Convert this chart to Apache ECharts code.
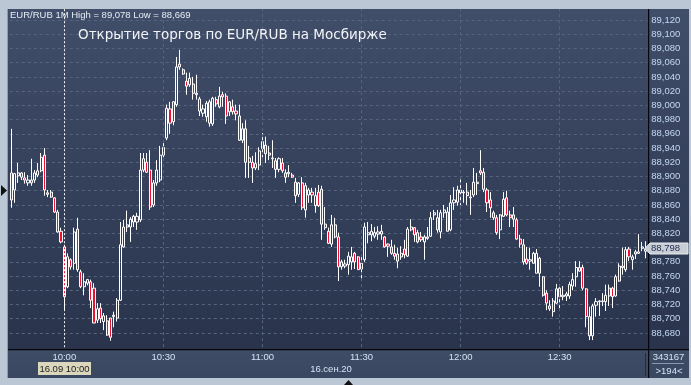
<!DOCTYPE html>
<html><head><meta charset="utf-8">
<script src="https://cdn.jsdelivr.net/npm/echarts@6/dist/echarts.min.js"></script>
<style>html,body{margin:0;padding:0;background:#b9c4d2}#c{width:691px;height:385px}</style>
</head><body><div id="c"></div>
<script>
// minute bars 09:44 .. 12:56
var startMinute = 9 * 60 + 44;
var barCount = 193;
var categories = [];
for (var i = 0; i < barCount; i++) {
  var t = startMinute + i, h = Math.floor(t / 60), m = t % 60;
  categories.push(h + ':' + (m < 10 ? '0' : '') + m);
}
var opens = [88.905,88.881,88.901,88.905,88.898,88.891,88.895,88.895,88.902,88.908,88.930,88.877,88.878,88.870,88.850,88.823,
88.801,88.745,88.783,88.778,88.826,88.766,88.745,88.750,88.752,88.743,88.698,88.715,88.696,88.697,88.701,88.703,88.701,88.726,88.801,88.829,88.829,88.836,88.836,88.839,88.909,88.920,88.909,88.860,88.891,88.895,88.930,
88.954,88.995,88.977,89.001,89.058,89.050,89.034,89.029,89.030,89.017,88.992,88.989,88.984,89.005,88.974,89.008,88.998,89.015,89.013,88.991,88.998,88.992,88.985,88.951,88.967,88.920,88.920,88.912,88.916,
88.939,88.944,88.933,88.925,88.922,88.910,88.919,88.905,88.904,88.902,88.892,88.875,88.891,88.853,88.874,88.878,88.859,88.878,88.882,88.833,88.823,88.805,88.832,88.815,88.773,88.774,88.776,88.780,88.792,88.787,
88.770,88.783,88.818,88.818,88.816,88.819,88.823,88.815,88.805,88.801,88.792,88.791,88.787,88.798,88.788,88.825,88.828,88.821,88.815,88.808,88.815,88.816,88.846,88.842,88.822,88.849,88.850,88.825,88.863,88.864,
88.877,88.878,88.878,88.870,88.874,88.890,88.908,88.906,88.881,88.867,88.849,88.842,88.825,88.844,88.870,88.846,88.846,88.839,88.812,88.804,88.784,88.781,88.778,88.764,88.785,88.759,88.736,88.718,88.710,88.722,
88.743,88.731,88.732,88.732,88.746,88.759,88.772,88.772,88.742,88.703,88.676,88.719,88.724,88.724,88.724,88.743,88.743,88.732,88.753,88.772,88.769,88.798,88.783,88.791,88.792,88.799,88.795];
var closes = [88.867,88.904,88.905,88.899,88.895,88.895,88.891,88.905,88.908,88.927,88.881,88.875,88.871,88.850,88.822,88.808,
88.731,88.787,88.773,88.822,88.769,88.745,88.752,88.755,88.726,88.694,88.714,88.700,88.704,88.677,88.674,88.705,88.726,88.804,88.829,88.832,88.840,88.844,88.844,88.909,88.925,88.906,88.857,88.891,88.909,88.930,88.941,
88.996,88.975,89.005,89.054,89.054,89.044,89.027,89.038,89.017,89.015,89.009,88.995,89.003,88.975,89.010,89.002,89.013,89.012,88.985,89.005,88.991,88.988,88.951,88.967,88.920,88.926,88.912,88.918,88.936,
88.949,88.932,88.930,88.926,88.910,88.925,88.908,88.899,88.906,88.899,88.873,88.891,88.856,88.887,88.881,88.874,88.873,88.859,88.833,88.828,88.806,88.832,88.815,88.773,88.780,88.777,88.788,88.787,88.780,88.769,
88.778,88.829,88.821,88.823,88.821,88.822,88.819,88.801,88.802,88.792,88.788,88.781,88.792,88.790,88.826,88.829,88.818,88.808,88.811,88.815,88.813,88.842,88.849,88.825,88.849,88.853,88.823,88.863,88.867,88.881,
88.881,88.877,88.873,88.871,88.892,88.892,88.905,88.882,88.863,88.856,88.842,88.821,88.846,88.868,88.846,88.842,88.840,88.812,88.805,88.780,88.778,88.783,88.792,88.792,88.764,88.733,88.722,88.714,88.725,88.742,
88.731,88.733,88.735,88.748,88.755,88.772,88.767,88.743,88.703,88.676,88.718,88.724,88.725,88.725,88.733,88.732,88.731,88.759,88.774,88.774,88.797,88.787,88.787,88.794,88.794,88.801,88.798];
var lows = [88.856,88.863,88.891,88.895,88.890,88.887,88.887,88.891,88.899,88.906,88.873,88.871,88.870,88.849,88.821,88.806,
88.712,88.743,88.769,88.769,88.766,88.743,88.733,88.747,88.715,88.694,88.694,88.694,88.684,88.676,88.669,88.688,88.696,88.725,88.800,88.822,88.808,88.829,88.825,88.836,88.906,88.905,88.853,88.857,88.887,88.892,88.927,
88.951,88.960,88.972,88.998,89.050,89.043,89.015,89.026,89.008,89.008,88.985,88.984,88.977,88.970,88.971,88.998,88.996,88.998,88.974,88.985,88.987,88.979,88.950,88.947,88.898,88.898,88.891,88.909,88.909,
88.927,88.919,88.923,88.912,88.898,88.906,88.905,88.891,88.899,88.898,88.863,88.871,88.853,88.842,88.863,88.863,88.849,88.857,88.811,88.825,88.805,88.801,88.813,88.753,88.769,88.771,88.762,88.769,88.770,88.769,
88.755,88.780,88.806,88.809,88.813,88.811,88.811,88.800,88.787,88.790,88.783,88.771,88.783,88.785,88.787,88.823,88.808,88.806,88.808,88.783,88.811,88.815,88.839,88.821,88.813,88.842,88.823,88.823,88.853,88.859,
88.860,88.863,88.860,88.846,88.871,88.874,88.902,88.878,88.850,88.842,88.839,88.818,88.812,88.843,88.844,88.829,88.829,88.811,88.800,88.776,88.776,88.769,88.778,88.764,88.745,88.731,88.712,88.711,88.703,88.721,
88.715,88.726,88.725,88.728,88.740,88.745,88.766,88.740,88.688,88.670,88.670,88.703,88.704,88.718,88.711,88.718,88.715,88.731,88.752,88.762,88.766,88.781,88.769,88.784,88.791,88.795,88.785];
var highs = [88.967,88.905,88.919,88.906,88.906,88.902,88.925,88.909,88.919,88.933,88.940,88.881,88.881,88.871,88.853,88.828,
88.804,88.792,88.785,88.828,88.842,88.769,88.764,88.756,88.755,88.750,88.722,88.722,88.708,88.705,88.701,88.710,88.729,88.836,88.839,88.852,88.843,88.846,88.849,88.933,88.933,88.933,88.937,88.895,88.923,88.943,88.949,
89.001,89.005,89.006,89.068,89.078,89.052,89.046,89.046,89.040,89.043,89.012,89.001,89.006,89.008,89.012,89.012,89.026,89.019,89.017,89.006,89.008,89.001,89.001,88.975,88.979,88.943,88.929,88.934,88.941,
88.961,88.956,88.943,88.951,88.926,88.927,88.926,88.910,88.916,88.905,88.898,88.892,88.899,88.891,88.884,88.884,88.884,88.888,88.887,88.857,88.828,88.846,88.842,88.821,88.783,88.783,88.794,88.801,88.794,88.788,
88.787,88.835,88.836,88.833,88.829,88.830,88.832,88.816,88.806,88.811,88.804,88.800,88.802,88.811,88.829,88.840,88.829,88.825,88.822,88.818,88.829,88.850,88.853,88.853,88.853,88.860,88.857,88.874,88.885,88.887,
88.896,88.881,88.891,88.881,88.912,88.905,88.937,88.912,88.884,88.878,88.852,88.846,88.847,88.878,88.880,88.852,88.857,88.842,88.818,88.812,88.801,88.800,88.794,88.798,88.787,88.760,88.740,88.726,88.729,88.749,
88.748,88.746,88.738,88.752,88.764,88.781,88.781,88.776,88.743,88.717,88.721,88.729,88.726,88.736,88.748,88.748,88.745,88.762,88.778,88.800,88.801,88.801,88.790,88.797,88.819,88.808,88.809];
var timeTickLabels = ['10:00','10:30','11:00','11:30','12:00','12:30'];
var gridTimes = ['10:30','11:00','11:30','12:00','12:30'];
var sessionOpen = '10:00';
var lastPrice = 88.798;
var headerText = 'EUR/RUB 1M High = 89,078 Low = 88,669';
var titleText = 'Открытие торгов по EUR/RUB на Мосбирже';

var candles = opens.map(function (o, i) { return [o, closes[i], lows[i], highs[i]]; });
var fmt = function (v) { return v.toFixed(3).replace('.', ','); };
var gridDash = '#56647f';

var chart = echarts.init(document.getElementById('c'), null, {renderer: 'canvas'});
var markData = gridTimes.map(function (t) { return {xAxis: t}; });
markData.push({xAxis: sessionOpen, lineStyle: {color: '#ffffff', type: [2, 2], width: 1, opacity: 0.95}});

chart.setOption({
  animation: false,
  backgroundColor: '#b9c4d2',
  grid: {left: 9.81, right: 43.8, top: 5.78, bottom: 37.8, containLabel: false},
  xAxis: {
    type: 'category', data: categories, boundaryGap: true,
    axisLine: {show: false}, axisTick: {show: false}, splitLine: {show: false},
    axisLabel: {
      color: '#d6e2f4', fontFamily: 'Liberation Sans, Arial, sans-serif', fontSize: 9.5, margin: 5,
      interval: function (idx, val) { return timeTickLabels.indexOf(val) >= 0; }
    }
  },
  yAxis: {
    type: 'value', position: 'right', min: 88.66, max: 89.14, interval: 0.02, scale: true,
    axisLine: {show: false}, axisTick: {show: false},
    axisLabel: {color: '#c3d7f3', fontFamily: 'Liberation Sans, Arial, sans-serif', fontSize: 9.5, margin: 4,
      showMinLabel: false, showMaxLabel: false, formatter: fmt},
    splitLine: {show: true, showMinLine: false, showMaxLine: false, lineStyle: {color: gridDash, type: [3, 3], width: 1}}
  },
  graphic: [
    {type: 'rect', z: -10, silent: true, shape: {x: 8, y: 9, width: 681, height: 341},
      style: {fill: new echarts.graphic.LinearGradient(0, 0, 0, 1, [{offset: 0, color: '#414e69'}, {offset: 1, color: '#29334c'}])}},
    {type: 'rect', z: -10, silent: true, shape: {x: 8, y: 350, width: 681, height: 28},
      style: {fill: new echarts.graphic.LinearGradient(0, 0, 0, 1, [{offset: 0, color: '#3f4c66'}, {offset: 1, color: '#3a4760'}])}},
    {type: 'rect', z: 200, silent: true, shape: {x: 0, y: 0, width: 691, height: 9}, style: {fill: '#bcc7d5'}},
    {type: 'rect', z: 200, silent: true, shape: {x: 0, y: 0, width: 8, height: 385}, style: {fill: '#bcc7d5'}},
    {type: 'rect', z: 200, silent: true, shape: {x: 7, y: 9, width: 1, height: 370}, style: {fill: '#8f9bab'}},
    {type: 'rect', z: 200, silent: true, shape: {x: 0, y: 378, width: 691, height: 7}, style: {fill: '#bcc7d5'}},
    {type: 'rect', z: 200, silent: true, shape: {x: 689, y: 0, width: 2, height: 385}, style: {fill: '#bcc7d5'}},
    {type: 'rect', z: 200, silent: true, shape: {x: 8, y: 349, width: 681, height: 1.2}, style: {fill: '#05070c'}},
    {type: 'rect', z: 200, silent: true, shape: {x: 648, y: 9, width: 1.2, height: 369}, style: {fill: '#05070c'}},
    {type: 'rect', z: 200, silent: true, shape: {x: 645, y: 353, width: 1, height: 23}, style: {fill: '#252d3d'}},
    {type: 'rect', z: 200, silent: true, shape: {x: 652, y: 363, width: 32, height: 1}, style: {fill: '#8a96aa'}},
    {type: 'polygon', z: 200, silent: true, shape: {points: [[1, 185], [7, 190.5], [1, 196]]}, style: {fill: '#111111'}},
    {type: 'polygon', z: 200, silent: true, shape: {points: [[344, 385], [348.5, 380], [353, 385]]}, style: {fill: '#111111'}},
    {type: 'text', z: 200, silent: true, style: {x: 10, y: 15, text: headerText, fill: '#e6ecf6',
      font: '9.5px "Liberation Sans", Arial, sans-serif', textVerticalAlign: 'middle'}},
    {type: 'text', z: 200, silent: true, style: {x: 78, y: 35, text: titleText, fill: '#f2f4f8',
      font: '13.5px "DejaVu Sans", sans-serif', textVerticalAlign: 'middle'}},
    {type: 'rect', z: 200, silent: true, shape: {x: 38, y: 362, width: 53, height: 13}, style: {fill: '#dad7bd'}},
    {type: 'text', z: 201, silent: true, style: {x: 64.5, y: 369, text: '16.09 10:00', fill: '#1b1b1b',
      font: '9.5px "Liberation Sans", Arial, sans-serif', textAlign: 'center', textVerticalAlign: 'middle'}},
    {type: 'text', z: 200, silent: true, style: {x: 331, y: 369.5, text: '16.сен.20', fill: '#d6e2f4',
      font: '9.5px "Liberation Sans", Arial, sans-serif', textAlign: 'center', textVerticalAlign: 'middle'}},
    {type: 'text', z: 200, silent: true, style: {x: 668.5, y: 357, text: '343167', fill: '#d6e2f4',
      font: '9.5px "Liberation Sans", Arial, sans-serif', textAlign: 'center', textVerticalAlign: 'middle'}},
    {type: 'text', z: 200, silent: true, style: {x: 669, y: 371, text: '>194<', fill: '#d6e2f4',
      font: '9.5px "Liberation Sans", Arial, sans-serif', textAlign: 'center', textVerticalAlign: 'middle'}},
    {type: 'polygon', z: 200, silent: true, shape: {points: [[645, 248.5], [650, 243], [688, 243], [688, 254], [650, 254]]},
      style: {fill: '#c9ced6', stroke: '#e8ebf0', lineWidth: 1}},
    {type: 'text', z: 201, silent: true, style: {x: 651, y: 248.5, text: fmt(lastPrice), fill: '#1c2b4c',
      font: '9.5px "Liberation Sans", Arial, sans-serif', textVerticalAlign: 'middle'}}
  ],
  series: [{
    type: 'candlestick', data: candles, barWidth: 2.6,
    itemStyle: {color: 'transparent', color0: '#ea1230', borderColor: '#ffffff', borderColor0: '#ffffff', borderWidth: 1},
    markLine: {silent: true, symbol: 'none', label: {show: false}, animation: false,
      lineStyle: {color: gridDash, type: [3, 3], width: 1}, data: markData}
  }]
});
</script></body></html>
